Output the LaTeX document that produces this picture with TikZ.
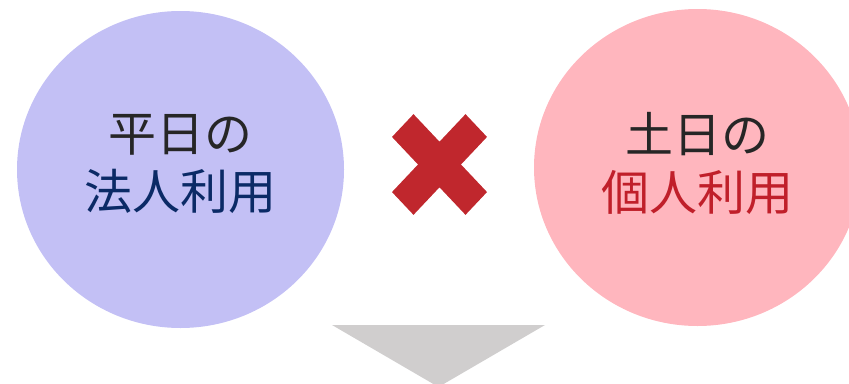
\documentclass[tikz,border=0pt]{standalone}
\usepackage{fontspec}
\newfontfamily\jpfont{Noto Sans CJK JP}
\usetikzlibrary{shapes.geometric}
\definecolor{lcirc}{HTML}{C3C0F5}
\definecolor{rcirc}{HTML}{FFB6BE}
\definecolor{darktext}{HTML}{262626}
\definecolor{navytext}{HTML}{0B2A66}
\definecolor{redtext}{HTML}{C01F2A}
\definecolor{xred}{HTML}{C0272D}
\definecolor{arrowgray}{HTML}{D0CECE}
\tikzset{
  bubble/.style={ellipse, minimum width=327pt, minimum height=317pt, inner sep=0pt, draw=none},
  bubbletext/.style={font=\jpfont\fontsize{48pt}{58pt}\selectfont, align=center, inner sep=0pt}
}
\begin{document}
\begin{tikzpicture}[x=1pt,y=-1pt]
\useasboundingbox (0,0) rectangle (849,383);
\clip (0,0) rectangle (849,383);
\node[bubble, fill=lcirc] (L) at (180.5,169.5) {};
\node[bubble, fill=rcirc] (R) at (697.5,167.5) {};
\node[bubbletext] (Lt) at (180,164) {\textcolor{darktext}{平日の}\\\textcolor{navytext}{法人利用}};
\node[bubbletext] (Rt) at (697,163) {\textcolor{darktext}{土日の}\\\textcolor{redtext}{個人利用}};
% cross
\begin{scope}[shift={(439.5,164.5)}, yscale=1.06]
\fill[xred] (-47.5,-26) -- (-26,-47.5) -- (0,-21.5) -- (26,-47.5) -- (47.5,-26) -- (21.5,0) -- (47.5,26) -- (26,47.5) -- (0,21.5) -- (-26,47.5) -- (-47.5,26) -- (-21.5,0) -- cycle;
\end{scope}
% down triangle
\fill[arrowgray] (332,325) -- (545,325) -- (438.5,387) -- cycle;
\end{tikzpicture}
\end{document}
